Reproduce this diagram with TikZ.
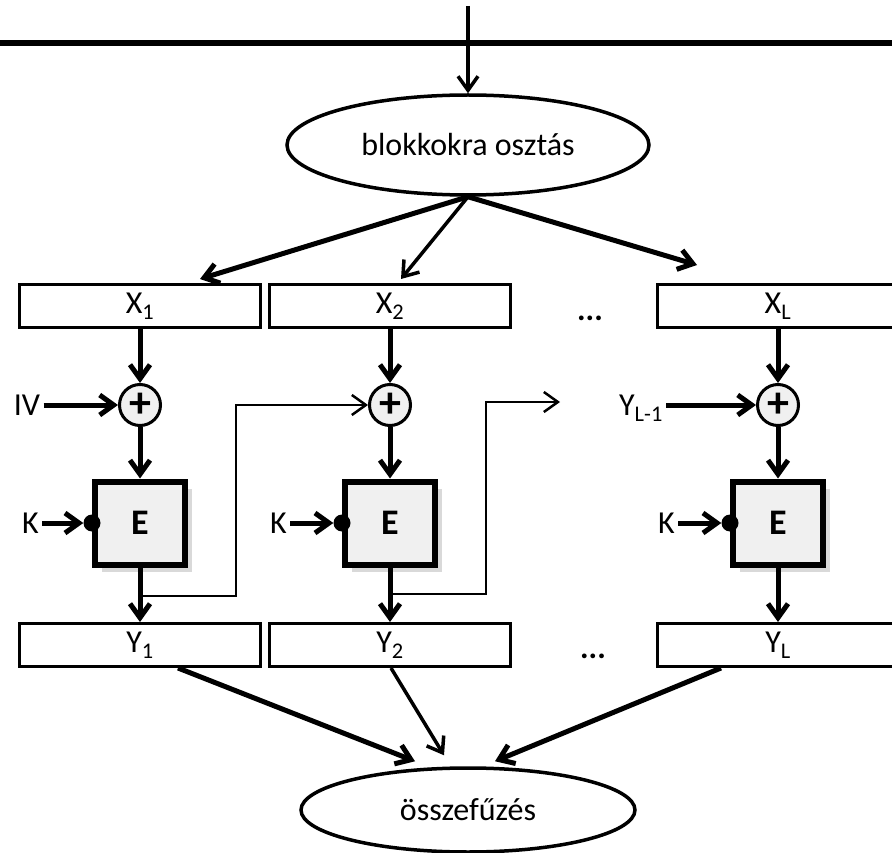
\documentclass[tikz,border=0pt]{standalone}
\usepackage{fontspec}
\setmainfont{Carlito}
\usetikzlibrary{arrows.meta, positioning, shapes.geometric, calc, shadows}

\begin{document}
\begin{tikzpicture}[
    x=1pt, y=-1pt,
    font=\fontsize{32}{38}\selectfont,
    blob/.style={ellipse, draw, line width=3.5pt, inner sep=0pt, align=center},
    block/.style={rectangle, draw, line width=3pt, minimum width=241pt, minimum height=43pt, inner sep=0pt},
    cipher/.style={rectangle, draw, line width=6pt, fill=black!6, minimum width=90pt, minimum height=83pt, font=\fontsize{36}{40}\selectfont\bfseries, drop shadow={shadow xshift=7pt, shadow yshift=-7pt, opacity=0.3}},
    xorsum/.style={circle, draw, line width=3pt, fill=black!6, minimum size=41pt, inner sep=0pt, font=\fontsize{44}{44}\selectfont\bfseries},
    keydot/.style={circle, fill, minimum size=17pt, inner sep=0pt},
    klabel/.style={inner sep=3pt},
    arrow/.style={-{Straight Barb[length=14pt, width=20pt]}, line width=5pt},
    thinarrow/.style={-{Straight Barb[length=14pt, width=20pt]}, line width=3.5pt},
    feedback/.style={-{Straight Barb[length=14pt, width=20pt]}, line width=2.5pt}
]
\useasboundingbox (0,0) rectangle (892,853);

% Input bus
\coordinate (busL) at (0,43);
\coordinate (busR) at (892,43);
\coordinate (in) at (468,6);
\draw[line width=6pt] (busL) -- (busR);

% Split and merge
\node[blob, minimum width=362pt, minimum height=100pt] (split) at (468,145) {blokkokra osztás};
\node[blob, minimum width=334pt, minimum height=84pt] (merge) at (468,810) {összefűzés};
\draw[thinarrow] (in) -- (split.north);

% Plaintext blocks
\node[block] (X1) at (140,306) {X\textsubscript{1}};
\node[block] (X2) at (390,306) {X\textsubscript{2}};
\node[block] (XL) at (778,306) {X\textsubscript{L}};
\node[font=\fontsize{32}{38}\selectfont\bfseries] (xdots) at (590,318) {...};

% XOR nodes
\node[xorsum] (P1) at (140,405) {+};
\node[xorsum] (P2) at (390,405) {+};
\node[xorsum] (PL) at (778,405) {+};

% Encryption boxes
\node[cipher] (E1) at (140,523) {E};
\node[cipher] (E2) at (390,523) {E};
\node[cipher] (EL) at (778,523) {E};
\node[keydot] (D1) at (E1.west) {};
\node[keydot] (D2) at (E2.west) {};
\node[keydot] (DL) at (EL.west) {};

% Ciphertext blocks
\node[block] (Y1) at (140,645) {Y\textsubscript{1}};
\node[block] (Y2) at (390,645) {Y\textsubscript{2}};
\node[block] (YL) at (778,645) {Y\textsubscript{L}};
\node[font=\fontsize{32}{38}\selectfont\bfseries] (ydots) at (593,656) {...};

% Labels
\node (IV) at (27,405) {IV};
\node (YLm) at (641,408) {Y\textsubscript{L-1}};
\node[klabel, left=50pt of E1.west] (K1) {K};
\node[klabel, left=52pt of E2.west] (K2) {K};
\node[klabel, left=52pt of EL.west] (KL) {K};

% Splitting arrows
\draw[arrow] (split.south) -- ($(X1.north)+(60,-4)$);
\draw[thinarrow] (split.south) -- ($(X2.north)+(11,-4)$);
\draw[arrow] (split.south) -- ($(XL.north)+(-81,-18)$);

% Chains
\foreach \c in {1,2,L} {
  \draw[arrow] (X\c) -- (P\c);
  \draw[arrow] (P\c) -- (E\c);
  \draw[arrow] (E\c) -- (Y\c);
  \draw[arrow] (K\c) -- (D\c);
}
\draw[arrow] (IV) -- (P1);
\draw[arrow] (YLm.east |- PL.west) -- (PL.west);

% Feedback
\coordinate (fb1) at (140,596);
\coordinate (up1) at (236,405);
\draw[feedback] (fb1) -| (up1) -- (P2.west);
\coordinate (fb2) at (390,594);
\coordinate (up2) at (486,402);
\coordinate (open2) at (560,402);
\draw[feedback] (fb2) -| (up2) -- (open2);

% Merging arrows
\draw[arrow] ($(Y1.south)+(38,0)$) -- ($(merge.north)+(-53,-5)$);
\draw[thinarrow] ($(Y2.south)+(1,0)$) -- ($(merge.north)+(-24,-11)$);
\draw[arrow] ($(YL.south)+(-57,0)$) -- ($(merge.north)+(27,-5)$);

\end{tikzpicture}
\end{document}
